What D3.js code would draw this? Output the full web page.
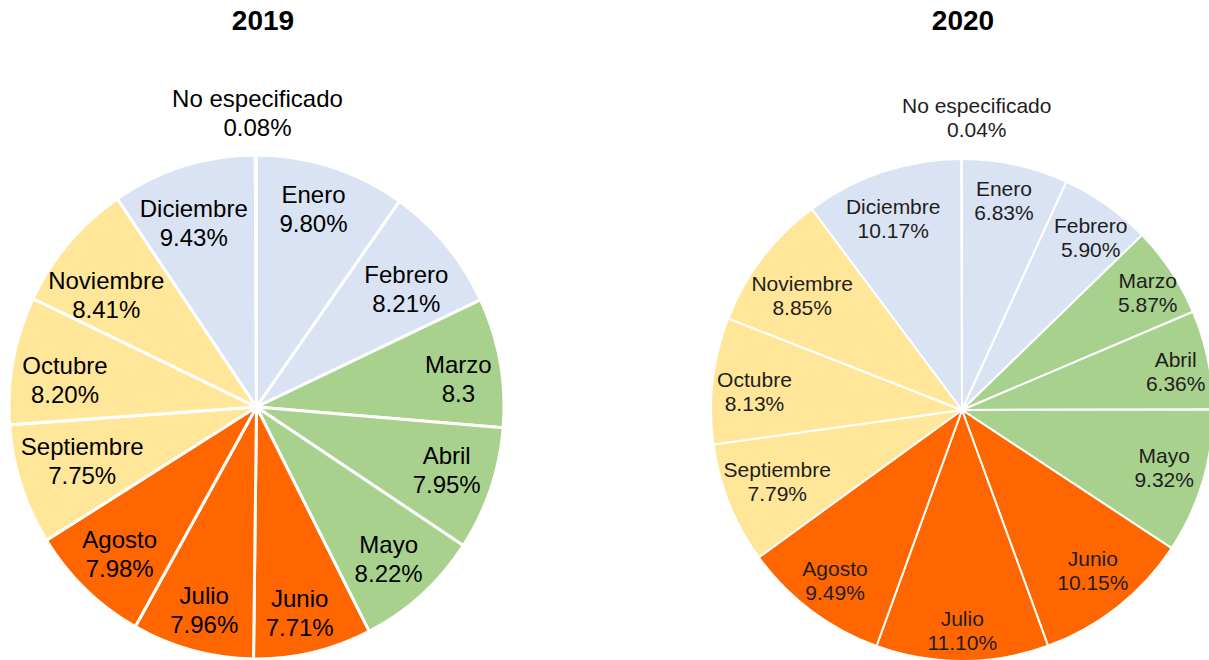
<!DOCTYPE html>
<html><head><meta charset="utf-8">
<script src="https://cdn.jsdelivr.net/npm/d3@7"></script>
<style>html,body{margin:0;padding:0;background:#fff;}svg{display:block;}</style>
</head><body>
<svg id="chart" width="1209" height="660"></svg>
<script>
const categories = ["Enero","Febrero","Marzo","Abril","Mayo","Junio","Julio","Agosto","Septiembre","Octubre","Noviembre","Diciembre","No especificado"];
const values2019 = [9.80, 8.21, 8.30, 7.95, 8.22, 7.71, 7.96, 7.98, 7.75, 8.20, 8.41, 9.43, 0.08];
const labels2019 = ["9.80%","8.21%","8.3","7.95%","8.22%","7.71%","7.96%","7.98%","7.75%","8.20%","8.41%","9.43%","0.08%"];
const values2020 = [6.83, 5.90, 5.87, 6.36, 9.32, 10.15, 11.10, 9.49, 7.79, 8.13, 8.85, 10.17, 0.04];
const labels2020 = ["6.83%","5.90%","5.87%","6.36%","9.32%","10.15%","11.10%","9.49%","7.79%","8.13%","8.85%","10.17%","0.04%"];
const seasons = ["inv","inv","pri","pri","pri","ver","ver","ver","oto","oto","oto","inv","inv"];
const titles = ["2019","2020"];

const color = d3.scaleOrdinal().domain(["inv","pri","ver","oto"]).range(["#DAE3F3","#A9D18E","#FF6600","#FFE699"]);
const svg = d3.select("#chart");
const FONT = "'Liberation Sans', Arial, sans-serif";

// layout settings (label nudges mimic the spreadsheet's label placement)
const configs = [
  {title: titles[0], values: values2019, labels: labels2019, cx: 256.5, cy: 407, r: 250, sx: 0.99, sy: 1.008, stroke: 3,
   labelR: 200, fs: 24, lh: 29, fill: "#000", titleX: 263, outer: {dx: 1.5, y1: 107, y2: 136},
   nudge: [[-3,-6],[-2,11],[7,8],[3,-3],[0,2],[-2,10],[-1,8],[0,1],[14,-8],[3,10],[0,19],[-4,8]]},
  {title: titles[1], values: values2020, labels: labels2020, cx: 962, cy: 410, r: 251, sx: 1, sy: 1, stroke: 2,
   labelR: 211, fs: 21, lh: 24, fill: "#1e1e1e", titleX: 963, outer: {dx: 15, y1: 113, y2: 137},
   nudge: [[-3,-3],[7,0],[10,-1],[7,4],[0,-3],[0,-5],[0,9],[0,2],[11,-7],[2,6],[8,13],[-2,9]]}
];

configs.forEach(cfg => {
  const data = categories.map((c, i) => ({cat: c, value: cfg.values[i], label: cfg.labels[i], season: seasons[i]}));
  const pie = d3.pie().sort(null).value(d => d.value);
  const arcs = pie(data);
  const arc = d3.arc().innerRadius(0).outerRadius(cfg.r);
  const labelArc = d3.arc().innerRadius(cfg.labelR).outerRadius(cfg.labelR);

  const g = svg.append("g").attr("transform", `translate(${cfg.cx},${cfg.cy}) scale(${cfg.sx},${cfg.sy})`);
  g.selectAll("path").data(arcs).join("path")
    .attr("d", arc)
    .attr("fill", d => color(d.data.season))
    .attr("stroke", "#fff")
    .attr("stroke-width", cfg.stroke)
    .attr("stroke-linejoin", "round");

  const capH = cfg.fs * 0.716;
  const lg = svg.append("g").attr("font-family", FONT).attr("font-size", cfg.fs).attr("fill", cfg.fill).attr("text-anchor", "middle");
  arcs.forEach((a, i) => {
    const [x, y] = labelArc.centroid(a);
    const px = cfg.cx + x * cfg.sx;
    const py = cfg.cy + y * cfg.sy;
    let b1, b2, tx = px;
    if (i === arcs.length - 1) {
      tx = px + cfg.outer.dx;
      b1 = cfg.outer.y1; b2 = cfg.outer.y2;
    } else {
      const block = capH + cfg.lh;
      const n = cfg.nudge[i] || [0, 0];
      tx = px + n[0];
      b1 = py - block / 2 + capH + n[1];
      b2 = b1 + cfg.lh;
    }
    lg.append("text").attr("x", tx).attr("y", b1).text(a.data.cat);
    lg.append("text").attr("x", tx).attr("y", b2).text(a.data.label);
  });

  svg.append("text").attr("x", cfg.titleX).attr("y", 30).attr("text-anchor", "middle")
    .attr("font-family", FONT).attr("font-weight", "bold").attr("font-size", 28).attr("fill", "#000")
    .text(cfg.title);
});
</script>
</body></html>
